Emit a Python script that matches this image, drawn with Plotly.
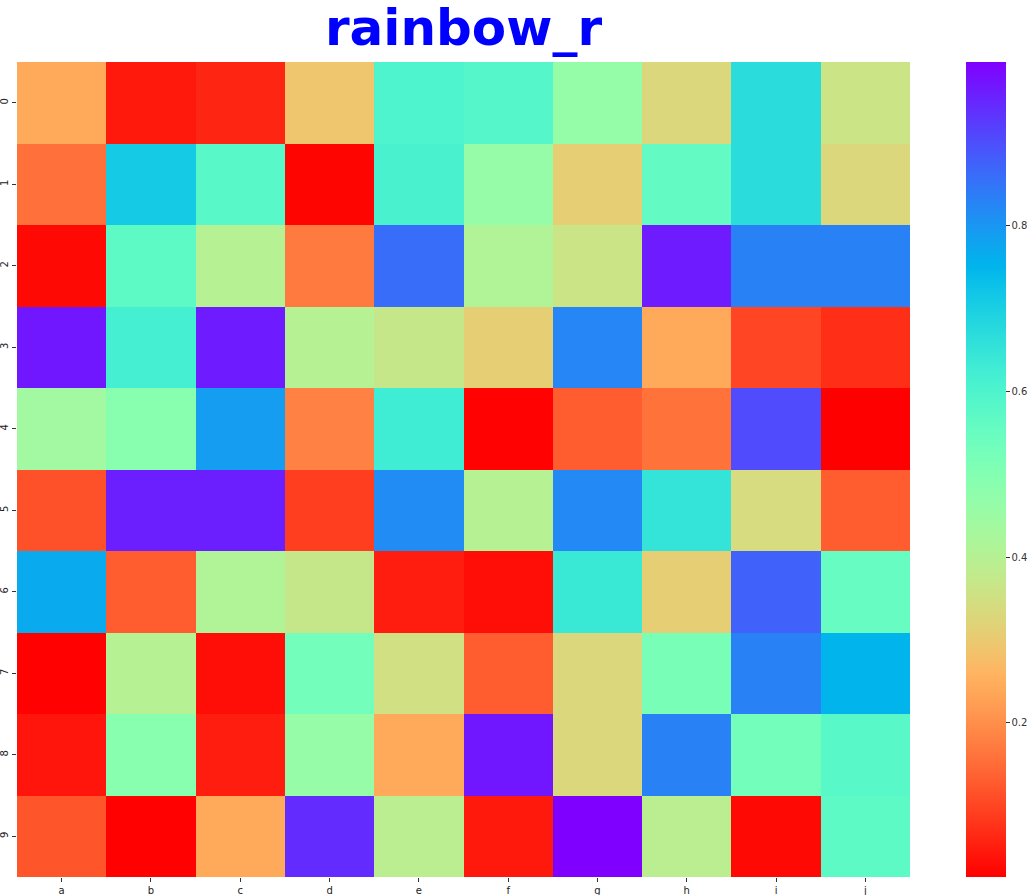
import numpy as np
import plotly.graph_objects as go

cols = ["a", "b", "c", "d", "e", "f", "g", "h", "i", "j"]
rows = ["0", "1", "2", "3", "4", "5", "6", "7", "8", "9"]

row0 = [0.24, 0.045, 0.06, 0.29, 0.60, 0.59, 0.465, 0.33, 0.67, 0.36]
row1 = [0.156, 0.71, 0.58, 0.02, 0.61, 0.46, 0.31, 0.56, 0.67, 0.33]
row2 = [0.025, 0.57, 0.40, 0.17, 0.86, 0.41, 0.36, 0.965, 0.83, 0.83]
row3 = [0.97, 0.62, 0.965, 0.40, 0.37, 0.31, 0.825, 0.24, 0.10, 0.07]
row4 = [0.44, 0.49, 0.79, 0.18, 0.63, 0.016, 0.13, 0.16, 0.905, 0.014]
row5 = [0.115, 0.96, 0.96, 0.09, 0.815, 0.40, 0.82, 0.65, 0.34, 0.13]
row6 = [0.77, 0.13, 0.41, 0.37, 0.05, 0.03, 0.64, 0.31, 0.875, 0.555]
row7 = [0.015, 0.40, 0.03, 0.53, 0.35, 0.13, 0.33, 0.52, 0.83, 0.75]
row8 = [0.04, 0.49, 0.05, 0.46, 0.24, 0.97, 0.33, 0.83, 0.53, 0.58]
row9 = [0.12, 0.015, 0.24, 0.945, 0.39, 0.045, 0.998, 0.39, 0.025, 0.57]

z = [row0, row1, row2, row3, row4, row5, row6, row7, row8, row9]

cb_ticks = [0.2, 0.4, 0.6, 0.8]


def rainbow_r(v):
    t = 1.0 - v
    r = min(1.0, abs(2 * t - 0.5))
    g = np.sin(np.pi * t)
    b = np.cos(np.pi * t / 2)
    return "rgb(%d,%d,%d)" % (round(r * 255), round(max(g, 0) * 255), round(max(b, 0) * 255))


stops = np.linspace(0, 1, 41)
colorscale = [[float(s), rainbow_r(s)] for s in stops]

fig = go.Figure(
    go.Heatmap(
        z=z,
        x=cols,
        y=rows,
        colorscale=colorscale,
        zmin=0.014,
        zmax=0.998,
        xgap=0,
        ygap=0,
        colorbar=dict(
            thickness=40,
            len=1.0,
            lenmode="fraction",
            x=1.0627,
            xanchor="left",
            y=0.5,
            yanchor="middle",
            xpad=0,
            ypad=0,
            outlinewidth=0,
            tickvals=cb_ticks,
            ticks="outside",
            ticklen=4,
            tickcolor="#333",
            tickfont=dict(family="DejaVu Sans", size=10, color="#333"),
        ),
    )
)

fig.update_layout(
    width=1029,
    height=895,
    margin=dict(l=17, r=119, t=62, b=18, autoexpand=False),
    paper_bgcolor="white",
    plot_bgcolor="white",
    title=dict(
        text="<b>rainbow_r</b>",
        x=0.5,
        xref="paper",
        xanchor="center",
        y=0.969,
        yref="container",
        yanchor="middle",
        font=dict(family="DejaVu Sans", size=50, color="#0000ff"),
    ),
    xaxis=dict(
        showgrid=False,
        zeroline=False,
        automargin=False,
        ticks="outside",
        ticklen=4,
        tickcolor="#333",
        tickfont=dict(family="DejaVu Sans", size=10, color="#222"),
    ),
    yaxis=dict(
        autorange="reversed",
        showgrid=False,
        zeroline=False,
        automargin=False,
        ticks="outside",
        ticklen=4,
        tickcolor="#333",
        tickangle=-90,
        tickfont=dict(family="DejaVu Sans", size=10, color="#222"),
    ),
)

fig.write_html(
    "out.html",
    config={"displayModeBar": False},
    post_script="document.body.style.margin='0';document.body.style.padding='0';document.body.style.overflow='hidden';",
)
